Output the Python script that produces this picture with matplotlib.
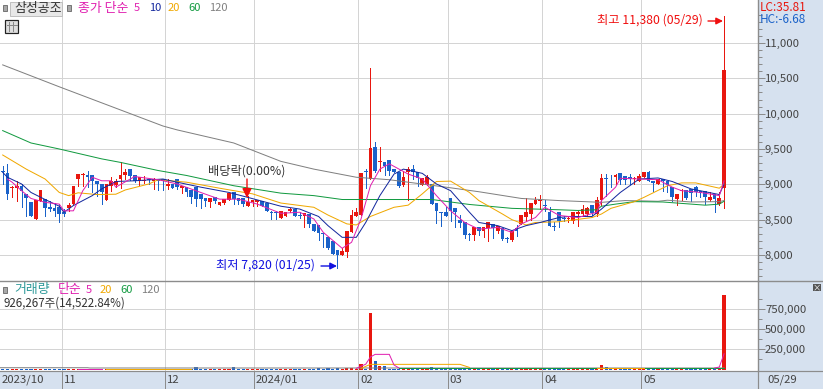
import matplotlib
matplotlib.use('Agg')
import matplotlib.pyplot as plt
from matplotlib.patches import Rectangle
from matplotlib.ticker import FixedLocator, FuncFormatter

plt.rcParams['font.family'] = ['Noto Sans CJK KR', 'DejaVu Sans']

opens = [9195, 9160, 8945, 8945, 8970, 8865, 8745, 8510, 8770, 8790,
         8675, 8665, 8680, 8615, 8670, 8720, 9075, 9125, 9125, 9125,
         9050, 9005, 8780, 8970, 8995, 9075, 9130, 9215, 9130, 9040,
         9040, 9075, 9050, 9075, 9075, 8970, 9005, 9075, 8945, 8960,
         8925, 8960, 8865, 8800, 8745, 8815, 8710, 8735, 8785, 8885,
         8800, 8805, 8690, 8745, 8745, 8770, 8735, 8605, 8605, 8525,
         8555, 8625, 8650, 8570, 8555, 8580, 8440, 8430, 8310, 8260,
         8195, 8070, 8005, 8045, 8330, 8555, 8570, 9195, 9075, 9525,
         9310, 9310, 9350, 9215, 9170, 8995, 9180, 9215, 9170, 8995,
         8995, 9005, 8735, 8605, 8605, 8805, 8665, 8500, 8460, 8295,
         8285, 8390, 8335, 8375, 8440, 8345, 8375, 8235, 8210, 8375,
         8440, 8540, 8580, 8720, 8770, 8705, 8605, 8400, 8605, 8520,
         8510, 8485, 8580, 8580, 8580, 8705, 8580, 8785, 9085, 9050,
         9110, 9160, 9115, 9100, 9075, 9050, 9100, 9170, 9040, 9005,
         9075, 9050, 8960, 8790, 8905, 8920, 8935, 8960, 8910, 8910,
         8780, 8865, 8720, 8945]
closes = [9170, 8865, 8965, 8980, 8910, 8800, 8555, 8785, 8925, 8660,
          8650, 8620, 8580, 8580, 8705, 8980, 9145, 9135, 9100, 9050,
          9000, 8885, 9005, 9050, 9050, 9135, 9170, 9115, 9050, 9100,
          9060, 9060, 9075, 9050, 9050, 9005, 8945, 8960, 8970, 8895,
          8815, 8790, 8790, 8770, 8805, 8770, 8755, 8790, 8875, 8790,
          8770, 8720, 8755, 8780, 8785, 8700, 8620, 8590, 8590, 8625,
          8605, 8650, 8545, 8545, 8595, 8440, 8345, 8310, 8290, 8100,
          8015, 8005, 8050, 8345, 8565, 8605, 9155, 9170, 9510, 9195,
          9320, 9265, 9195, 9170, 8980, 9100, 9215, 9170, 9090, 9090,
          9100, 8725, 8620, 8590, 8545, 8620, 8605, 8450, 8285, 8285,
          8390, 8345, 8390, 8460, 8380, 8405, 8225, 8225, 8345, 8345,
          8565, 8605, 8735, 8785, 8785, 8695, 8415, 8390, 8485, 8510,
          8520, 8605, 8605, 8650, 8665, 8590, 8785, 9085, 9075, 9040,
          9125, 9060, 9060, 9075, 9090, 9115, 9170, 9040, 9020, 9075,
          9040, 8995, 8815, 8865, 8920, 8800, 8875, 8885, 8875, 8815,
          8820, 8790, 8805, 10620]
highs = [9255, 9290, 8980, 9050, 9005, 8865, 8745, 8785, 8925, 8790,
         8770, 8735, 8720, 8650, 8735, 8980, 9145, 9160, 9195, 9125,
         9050, 9005, 9005, 9110, 9075, 9310, 9215, 9215, 9130, 9100,
         9115, 9075, 9085, 9075, 9075, 9075, 9005, 9075, 8980, 8960,
         8925, 8960, 8865, 8800, 8805, 8815, 8755, 8790, 8875, 8885,
         8800, 8805, 8840, 8780, 8785, 8770, 8735, 8625, 8625, 8625,
         8605, 8660, 8650, 8605, 8595, 8580, 8440, 8430, 8310, 8260,
         8195, 8070, 8100, 8345, 8635, 8660, 9155, 9215, 10645, 9595,
         9525, 9310, 9350, 9215, 9170, 9195, 9240, 9280, 9170, 9090,
         9125, 9005, 8735, 8615, 8675, 8805, 8665, 8565, 8460, 8310,
         8390, 8390, 8390, 8460, 8440, 8415, 8375, 8250, 8345, 8425,
         8565, 8800, 8735, 8815, 8850, 8785, 8675, 8460, 8605, 8545,
         8545, 8615, 8620, 8705, 8685, 8705, 8815, 9145, 9145, 9125,
         9145, 9160, 9115, 9145, 9110, 9145, 9170, 9195, 9040, 9075,
         9075, 9050, 8960, 8865, 8935, 8920, 8935, 8970, 8910, 8910,
         8885, 8865, 8885, 11380]
lows = [9005, 8790, 8815, 8770, 8675, 8545, 8545, 8510, 8770, 8545,
        8625, 8545, 8470, 8555, 8625, 8720, 8970, 8970, 8960, 8885,
        8840, 8720, 8780, 8910, 8960, 8945, 9075, 9065, 9030, 8990,
        9020, 9005, 8935, 8925, 8925, 8935, 8945, 8935, 8875, 8840,
        8735, 8690, 8665, 8700, 8685, 8735, 8710, 8720, 8785, 8720,
        8720, 8690, 8690, 8700, 8690, 8700, 8620, 8510, 8510, 8525,
        8555, 8605, 8545, 8520, 8400, 8390, 8345, 8210, 8115, 8085,
        8015, 7820, 8005, 7975, 8330, 8555, 8570, 8945, 9075, 9170,
        9195, 9125, 9125, 9170, 8965, 8970, 8785, 9075, 8970, 8995,
        8995, 8725, 8450, 8415, 8545, 8485, 8390, 8390, 8235, 8210,
        8210, 8285, 8250, 8200, 8235, 8305, 8210, 8190, 8200, 8275,
        8440, 8485, 8500, 8720, 8650, 8625, 8415, 8360, 8390, 8485,
        8460, 8450, 8415, 8555, 8555, 8565, 8545, 8710, 8840, 8960,
        9005, 9005, 9005, 9005, 9005, 9040, 9100, 9040, 8910, 9005,
        8910, 8885, 8770, 8710, 8785, 8790, 8760, 8840, 8815, 8720,
        8760, 8615, 8710, 8665]

# moving averages at the candle numbers in *_x
ma5_x = [1, 2, 4, 6, 9, 12, 13, 15, 17, 19, 21, 23, 24, 28, 33, 37, 42, 46, 50, 54,
         59, 63, 66, 68, 72, 74, 76, 78, 80, 82, 86, 89, 92, 95, 98, 101, 105, 108, 110, 113,
         115, 118, 122, 126, 127, 130, 131, 135, 139, 142, 144, 148, 152, 153]
ma5 = [9075, 9030, 8910, 8800, 8745, 8720, 8625, 8625, 8910, 9100, 9050, 9050, 8960, 9110, 9065, 9005, 8885, 8790, 8790, 8720,
       8590, 8605, 8510, 8320, 8095, 8180, 8510, 8980, 9215, 9290, 9145, 9075, 8840, 8625, 8460, 8365, 8390, 8320, 8440, 8530,
       8675, 8560, 8530, 8605, 8770, 8960, 9085, 9075, 9065, 8960, 8910, 8885, 8840, 9050]
ma10_x = [0, 1, 4, 6, 9, 12, 13, 15, 19, 21, 24, 28, 34, 37, 42, 48, 52, 59, 63, 67,
          69, 72, 75, 77, 80, 83, 85, 89, 92, 95, 99, 101, 105, 108, 111, 114, 118, 120, 125, 127,
          131, 135, 139, 142, 146, 152, 153]
ma10 = [9170, 9100, 9005, 8885, 8785, 8690, 8605, 8700, 8840, 8935, 9040, 9050, 9075, 9030, 8960, 8885, 8815, 8690, 8650, 8545,
        8415, 8250, 8250, 8460, 8840, 9145, 9215, 9155, 9005, 8910, 8605, 8460, 8415, 8345, 8415, 8460, 8530, 8545, 8545, 8650,
        8885, 9075, 9090, 9040, 8935, 8855, 9005]
ma20_x = [0, 5, 9, 12, 14, 16, 20, 24, 26, 31, 33, 39, 46, 53, 59, 66, 69, 73, 75, 78,
          83, 86, 89, 92, 95, 99, 101, 106, 108, 111, 113, 118, 125, 127, 129, 134, 136, 141, 144, 147,
          152, 153]
ma20 = [9415, 9215, 9075, 8885, 8840, 8880, 8855, 8860, 8920, 9005, 9065, 9030, 8945, 8865, 8735, 8675, 8565, 8440, 8425, 8545,
        8675, 8705, 8865, 9040, 9045, 8885, 8770, 8580, 8500, 8425, 8460, 8470, 8530, 8580, 8660, 8755, 8815, 8980, 9020, 9020,
        8945, 9005]
ma60_x = [0, 6, 12, 21, 25, 33, 39, 49, 59, 66, 72, 86, 91, 99, 108, 118, 122, 126, 127, 130,
          134, 140, 146, 149, 152, 153]
ma60 = [9760, 9585, 9500, 9360, 9310, 9195, 9125, 8980, 8875, 8840, 8785, 8785, 8785, 8715, 8660, 8640, 8630, 8640, 8690, 8720,
        8755, 8750, 8720, 8705, 8720, 8760]
ma120_x = [0, 12, 34, 37, 49, 54, 59, 66, 75, 82, 94, 101, 110, 118, 127, 132, 136, 139, 141, 143,
           146, 152, 153]
ma120 = [10690, 10380, 9825, 9770, 9585, 9455, 9325, 9215, 9100, 9065, 8960, 8895, 8800, 8770, 8745, 8770, 8765, 8760, 8775, 8765,
         8750, 8755, 8770]

# volume
base_volume = 3000
volume_peaks = {41: 20000, 49: 20000, 67: 18000, 69: 18000, 71: 18000, 73: 18000, 74: 15000, 76: 62000,
                78: 703000, 79: 100000, 80: 37000, 81: 37000, 91: 30000, 127: 50000, 128: 30000,
                153: 926267}
vol_ma5_x = [75, 77, 78, 79, 82, 83, 84]
vol_ma5 = [8000, 60000, 150000, 183000, 183000, 50000, 14000]
vol_ma5b_x = [151, 152, 153]
vol_ma5b = [12000, 25000, 190000]
vol_ma5c_x = [16, 21]
vol_ma5c = [6000, 6000]
vol_ma20_x = [76, 78, 97, 99]
vol_ma20 = [8000, 58000, 58000, 20000]
vol_ma20b_x = [22, 40]
vol_ma20b = [6000, 6000]
vol_ma20c_x = [126, 136]
vol_ma20c = [8000, 8000]
vol_ma60_x = [84, 153]
vol_ma60 = [16000, 16000]
vol_ma120_x = [-0.5, 18, 18.5, 153]
vol_ma120 = [16000, 16000, 12500, 12500]

price_ticks = [8000, 8500, 9000, 9500, 10000, 10500, 11000]
volume_ticks = [250000, 500000, 750000]
month_pos = [12.5, 34.5, 53.3, 75.4, 94.4, 114.4, 135.4]
month_labels = ['11', '12', '2024/01', '02', '03', '04', '05']

RED = '#e8170f'
BLUE = '#1a62c9'
C5 = '#e020b0'
C10 = '#14289e'
C20 = '#f0a800'
C60 = '#129a40'
C120 = '#808080'
BAND = '#d6e1ef'
GRID = '#d4d4d4'
EDGE = '#8c8c8c'
TEXT = '#444444'
PX = 0.72


def px_x(v):
    return v / 823


def px_y(v):
    return 1 - v / 389


fig = plt.figure(figsize=(8.23, 3.89), dpi=100, facecolor='white')

# backdrop and overlay both work in image pixels
back = fig.add_axes([0, 0, 1, 1], zorder=0)
back.set_xlim(0, 823)
back.set_ylim(389, 0)
back.axis('off')
back.add_patch(Rectangle((758, 0), 65, 389, color=BAND, lw=0))
back.add_patch(Rectangle((0, 371), 823, 18, color=BAND, lw=0))

ax = fig.add_axes([0, px_y(281), px_x(758), 281 / 389], zorder=2)
vx = fig.add_axes([0, px_y(371), px_x(758), 90 / 389], zorder=2)
n = len(closes)
xs = list(range(n))

for a in (ax, vx):
    a.patch.set_alpha(0)
    a.set_xlim(-0.57, 160.2)
    a.set_xticks(month_pos)
    a.tick_params(axis='x', length=0, labelbottom=False)
    a.grid(True, color=GRID, lw=1 * PX)
    a.set_axisbelow(True)
    a.yaxis.tick_right()
    a.tick_params(axis='y', which='major', length=5, width=PX, color=EDGE, pad=0,
                  labelsize=8.2, labelcolor=TEXT)
    a.tick_params(axis='y', which='minor', length=3, width=PX, color=EDGE)
    for s in ('top', 'left', 'bottom'):
        a.spines[s].set_visible(False)
    a.spines['right'].set_color(EDGE)
    a.spines['right'].set_linewidth(1.4 * PX)

ax.set_ylim(7632, 11608)
ax.yaxis.set_major_locator(FixedLocator(price_ticks))
ax.yaxis.set_minor_locator(FixedLocator([v for v in range(7700, 11500, 100) if v % 500]))
ax.yaxis.set_major_formatter(FuncFormatter(lambda v, _: f'{int(v):,}'))

colors = [RED if c >= o else BLUE for o, c in zip(opens, closes)]
ax.vlines(xs, lows, highs, colors=colors, lw=PX, antialiased=False, zorder=3)
for x, o, c, col in zip(xs, opens, closes, colors):
    bottom = min(o, c)
    height = max(abs(c - o), 14)
    ax.bar(x, height, bottom=bottom, width=0.78, color=col, lw=0, zorder=3, antialiased=False)

for mx, my, col in ((ma120_x, ma120, C120), (ma60_x, ma60, C60), (ma20_x, ma20, C20),
                    (ma10_x, ma10, C10), (ma5_x, ma5, C5)):
    ax.plot(mx, my, color=col, lw=PX, zorder=4)

vx.set_ylim(-25000, 1100000)
vx.yaxis.set_major_locator(FixedLocator(volume_ticks))
vx.yaxis.set_minor_locator(FixedLocator([125000, 375000, 625000, 875000]))
vx.yaxis.set_major_formatter(FuncFormatter(lambda v, _: f'{int(v):,}'))

volumes = [volume_peaks.get(i, base_volume) for i in xs]
vx.bar(xs, [v + 12000 for v in volumes], bottom=-12000, width=0.66, color=colors, lw=0,
       zorder=3, antialiased=False)
for mx, my, col in ((vol_ma120_x, vol_ma120, C120), (vol_ma60_x, vol_ma60, C60),
                    (vol_ma20_x, vol_ma20, C20), (vol_ma20b_x, vol_ma20b, C20),
                    (vol_ma20c_x, vol_ma20c, C20), (vol_ma5_x, vol_ma5, C5),
                    (vol_ma5b_x, vol_ma5b, C5), (vol_ma5c_x, vol_ma5c, C5)):
    vx.plot(mx, my, color=col, lw=PX, zorder=4)

# overlay: labels, arrows, separators
top = fig.add_axes([0, 0, 1, 1], zorder=5)
top.set_xlim(0, 823)
top.set_ylim(389, 0)
top.axis('off')
top.patch.set_alpha(0)

top.plot([0, 823], [281, 281], color=EDGE, lw=1.4 * PX)
top.plot([0, 823], [371, 371], color=EDGE, lw=1.2 * PX)
top.plot([758, 758], [371, 389], color=EDGE, lw=1.2 * PX)
for m in month_pos:
    mx = (m + 0.57) * 758 / 160.77
    top.plot([mx, mx], [371, 389], color=EDGE, lw=PX)


def label(x, y, s, color=TEXT, size=8):
    top.text(x, y, s, color=color, fontsize=size, ha='left', va='center')


top.add_patch(Rectangle((10.5, 1.5), 52, 14, facecolor='#e8e8e8', edgecolor='#c0c0c0', lw=PX))
label(14, 8, '삼성공조', '#333333', 9.3)
for sx, sy in ((3, 5), (67, 5), (3, 287)):
    top.add_patch(Rectangle((sx, sy), 4.5, 5.5, facecolor='#a8a8a8', edgecolor='#777777', lw=PX))
top.add_patch(Rectangle((5.5, 19.5), 12.5, 13, facecolor='#dddddd', edgecolor='#222222', lw=1.2 * PX))
for gx in (9.5, 13.5):
    top.plot([gx, gx], [22, 31], color='#888888', lw=PX)
top.plot([7, 17], [25, 25], color='#888888', lw=PX)

label(78, 8, '종가 단순', C5, 9.3)
label(134, 8, '5', C5)
label(149, 8, '10', C10)
label(168, 8, '20', C20)
label(188, 8, '60', C60)
label(209, 8, '120', C120)

label(14, 290, '거래량', '#2f9a9a', 9.3)
label(58, 290, '단순', C5, 9.3)
label(86, 290, '5', C5)
label(100, 290, '20', C20)
label(120, 290, '60', C60)
label(141, 290, '120', C120)
label(4, 303, '926,267주(14,522.84%)', '#333333', 8.3)

label(760, 7, 'LC:35.81', '#e8170f', 8.5)
label(760, 19, 'HC:-6.68', BLUE, 8.5)

label(2, 380, '2023/10', TEXT, 8.2)
for m, s in zip(month_pos, month_labels):
    label((m + 0.57) * 758 / 160.77 + 2, 380, s, TEXT, 8.2)
label(767, 380, '05/29', TEXT, 8.2)

top.add_patch(Rectangle((813, 284), 8, 7, facecolor='#555555', lw=0))
top.text(817, 287.5, '×', color='white', fontsize=6, ha='center', va='center')

label(597, 20, '최고 11,380 (05/29)', '#f01010', 8.8)
top.annotate('', xy=(723, 21), xytext=(708, 21),
             arrowprops=dict(arrowstyle='-|>', color='#f01010', lw=1, shrinkA=0, shrinkB=0))
label(216, 265, '최저 7,820 (01/25)', '#1010e0', 8.8)
top.annotate('', xy=(337, 266), xytext=(321, 266),
             arrowprops=dict(arrowstyle='-|>', color='#1010e0', lw=1, shrinkA=0, shrinkB=0))
label(208, 171, '배당락(0.00%)', '#333333', 8.8)
top.annotate('', xy=(247, 198), xytext=(247, 179),
             arrowprops=dict(arrowstyle='-|>', color='#f01010', lw=1, shrinkA=0, shrinkB=0,
                             mutation_scale=14))

fig.savefig('out.png', dpi=100)
